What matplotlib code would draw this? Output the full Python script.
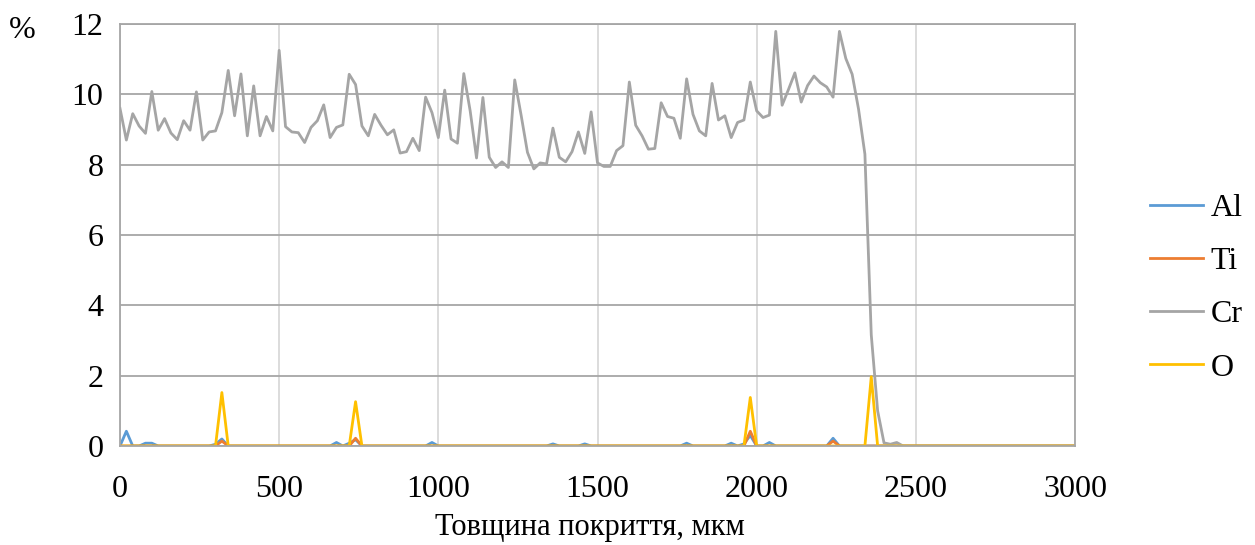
import numpy as np
import matplotlib.pyplot as plt

plt.rcParams['font.family'] = ['Liberation Serif', 'DejaVu Serif']

# depth points, every 20 um
depth = list(range(0, 3001, 20))

# Cr, read from 0 to 2460 um; zero after that
cr_read = [
    9.60, 8.70, 9.45, 9.10, 8.89, 10.08, 8.98, 9.31, 8.90, 8.71,
    9.25, 8.98, 10.07, 8.70, 8.93, 8.96, 9.48, 10.68, 9.39, 10.58,
    8.82, 10.24, 8.82, 9.37, 8.96, 11.25, 9.08, 8.93, 8.91, 8.63,
    9.06, 9.25, 9.70, 8.77, 9.06, 9.13, 10.57, 10.28, 9.10, 8.82,
    9.43, 9.12, 8.85, 8.99, 8.33, 8.37, 8.75, 8.40, 9.92, 9.48,
    8.77, 10.12, 8.73, 8.61, 10.59, 9.53, 8.19, 9.91, 8.21, 7.92,
    8.08, 7.92, 10.41, 9.41, 8.35, 7.88, 8.05, 8.02, 9.04, 8.21,
    8.08, 8.37, 8.93, 8.32, 9.50, 8.05, 7.95, 7.95, 8.40, 8.54,
    10.35, 9.12, 8.82, 8.44, 8.46, 9.76, 9.37, 9.32, 8.75, 10.44,
    9.43, 8.96, 8.82, 10.31, 9.27, 9.39, 8.77, 9.20, 9.27, 10.35,
    9.53, 9.34, 9.41, 11.79, 9.69, 10.14, 10.61, 9.78, 10.25, 10.52,
    10.33, 10.21, 9.92, 11.79, 11.02, 10.57, 9.58, 8.30, 3.16, 1.00,
    0.09, 0.05, 0.10, 0.0,
]
cr = cr_read + [0.0] * (len(depth) - len(cr_read))

# Al, Ti, O are zero except at these depths
al_peaks = {20: 0.42, 80: 0.08, 100: 0.08, 300: 0.05, 320: 0.20, 680: 0.10,
            720: 0.08, 740: 0.18, 980: 0.10, 1360: 0.06, 1460: 0.06,
            1780: 0.08, 1920: 0.08, 1960: 0.06, 1980: 0.30, 2040: 0.10,
            2240: 0.22}
ti_peaks = {320: 0.14, 740: 0.22, 1980: 0.42, 2240: 0.14}
o_peaks = {320: 1.52, 740: 1.26, 1980: 1.38, 2360: 1.97}

al = [al_peaks.get(d, 0.0) for d in depth]
ti = [ti_peaks.get(d, 0.0) for d in depth]
o = [o_peaks.get(d, 0.0) for d in depth]

fs = 23

fig = plt.figure(figsize=(12.55, 5.45), dpi=100)
ax = fig.add_axes([120/1255, 1-446/545, (1075-120)/1255, (446-24)/545])

lw = 2.0
ax.plot(depth, al, color='#5B9BD5', lw=lw, label='Al')
ax.plot(depth, ti, color='#ED7D31', lw=lw, label='Ti')
ax.plot(depth, cr, color='#A5A5A5', lw=lw, label='Cr')
ax.plot(depth, o, color='#FFC000', lw=lw, label='O')

ax.set_xlim(0, 3000)
ax.set_ylim(0, 12)
ax.set_xticks(range(0, 3001, 500))
ax.set_yticks(range(0, 13, 2))
ax.tick_params(length=0, labelsize=fs)
ax.tick_params(axis='x', pad=21)
ax.tick_params(axis='y', pad=12)

ax.set_axisbelow(True)
ax.yaxis.grid(True, color='#a6a6a6', lw=1.3)
ax.xaxis.grid(True, color='#d9d9d9', lw=1.3)
for s in ax.spines.values():
    s.set_color('#a6a6a6')
    s.set_linewidth(1.3)

fig.text(590/1255, 1-527/545, 'Товщина покриття, мкм', ha='center', va='center', fontsize=22)
fig.text(22/1255, 1-31/545, '%', ha='center', va='center', fontsize=fs)

fig.legend(loc='center left', bbox_to_anchor=(1150/1255, 1-288/545), frameon=False,
           fontsize=fs, handlelength=1.65, handletextpad=0.25, labelspacing=0.75,
           borderpad=0, borderaxespad=0)

fig.savefig('out.png', dpi=100)
